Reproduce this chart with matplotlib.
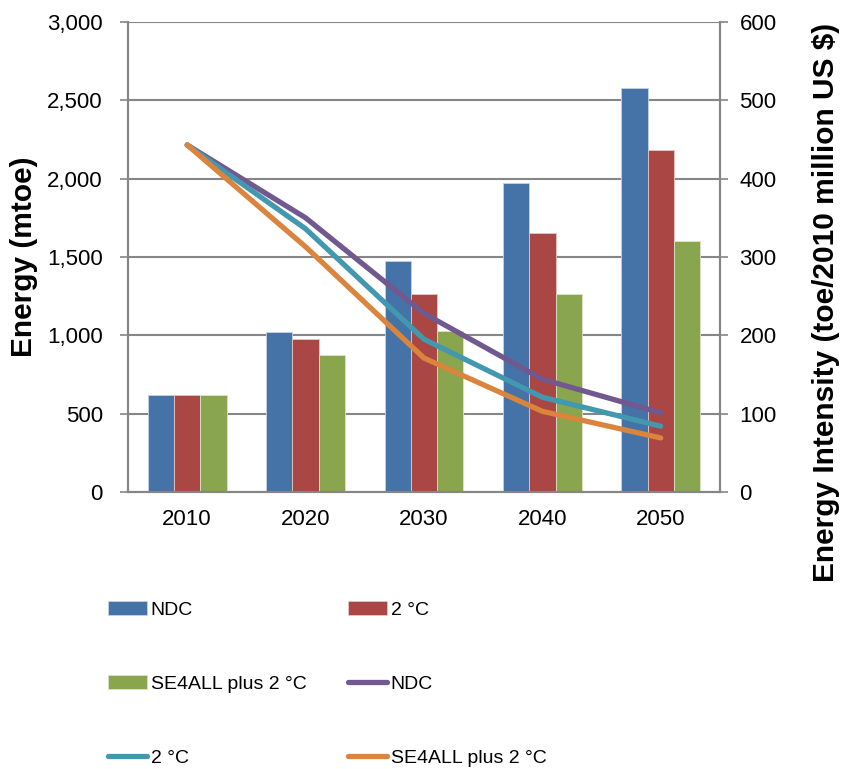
import numpy as np
import matplotlib.pyplot as plt

plt.rcParams['font.family'] = ['Liberation Sans', 'DejaVu Sans']

#data
years = ["2010", "2020", "2030", "2040", "2050"]
energy_ndc = [620, 1020, 1475, 1970, 2580]
energy_2c = [620, 975, 1265, 1655, 2185]
energy_se4all = [620, 875, 1025, 1265, 1605]
intensity_ndc = [443, 350, 228, 144, 101]
intensity_2c = [443, 336, 195, 121, 84]
intensity_se4all = [443, 313, 171, 103, 69]

grey = "#868686"

fig = plt.figure(figsize=(8.47, 7.69), dpi=100)
ax = fig.add_axes([0.1511, 0.3602, 0.6989, 0.6112])
ax2 = ax.twinx()

x = np.arange(len(years))
w = 0.222
ax.bar(x - w, energy_ndc, w, color="#4572A7", edgecolor="#c6d3e6", linewidth=0.6, label="NDC", zorder=2)
ax.bar(x, energy_2c, w, color="#AA4643", edgecolor="#e6c6c5", linewidth=0.6, label="2 °C", zorder=2)
ax.bar(x + w, energy_se4all, w, color="#89A54E", edgecolor="#dae4c8", linewidth=0.6, label="SE4ALL plus 2 °C", zorder=2)

ax2.plot(x, intensity_ndc, color="#71588F", lw=3.8, solid_capstyle="round", label="NDC")
ax2.plot(x, intensity_2c, color="#4198AF", lw=3.8, solid_capstyle="round", label="2 °C")
ax2.plot(x, intensity_se4all, color="#DB843D", lw=3.8, solid_capstyle="round", label="SE4ALL plus 2 °C")

#axes
ax.set_xlim(-0.5, 4.5)
ax.set_ylim(0, 3000)
ax2.set_ylim(0, 600)
ax.set_yticks(np.arange(0, 3001, 500))
ax.set_yticklabels([f"{v:,}" for v in range(0, 3001, 500)])
ax2.set_yticks(np.arange(0, 601, 100))
ax.set_xticks(x)
ax.set_xticklabels(years)

ax.yaxis.grid(True, color=grey, lw=1.5, zorder=0)
ax.set_axisbelow(True)
for a in (ax, ax2):
    a.spines["top"].set_visible(False)
    for s in ("left", "right", "bottom"):
        a.spines[s].set_color(grey)
        a.spines[s].set_linewidth(1.5)
ax.tick_params(axis="x", length=0, labelsize=16, pad=12)
ax.tick_params(axis="y", length=6, color=grey, width=1.2, labelsize=16, pad=12, direction="out")
ax2.tick_params(axis="y", length=6, color=grey, width=1.2, labelsize=16, pad=8, direction="out")

ax.set_ylabel("Energy (mtoe)", fontsize=21.5, fontweight="bold")
ax.yaxis.set_label_coords(-0.152, 0.5)
ax2.set_ylabel("Energy Intensity (toe/2010 million US $)", fontsize=21.5, fontweight="bold")
ax2.yaxis.set_label_coords(1.155, 0.404)

#legend, filled row by row
h1, l1 = ax.get_legend_handles_labels()
h2, l2 = ax2.get_legend_handles_labels()
hs = h1 + h2
ls = l1 + l2
order = [0, 2, 4, 1, 3, 5]
fig.legend([hs[i] for i in order], [ls[i] for i in order], ncol=2,
           loc="upper left", bbox_to_anchor=(0.118, 0.2284), frameon=False,
           fontsize=14, handlelength=2.0, handletextpad=0.2,
           labelspacing=2.9, columnspacing=2.15, borderaxespad=0)

fig.savefig("out.png", dpi=100)
